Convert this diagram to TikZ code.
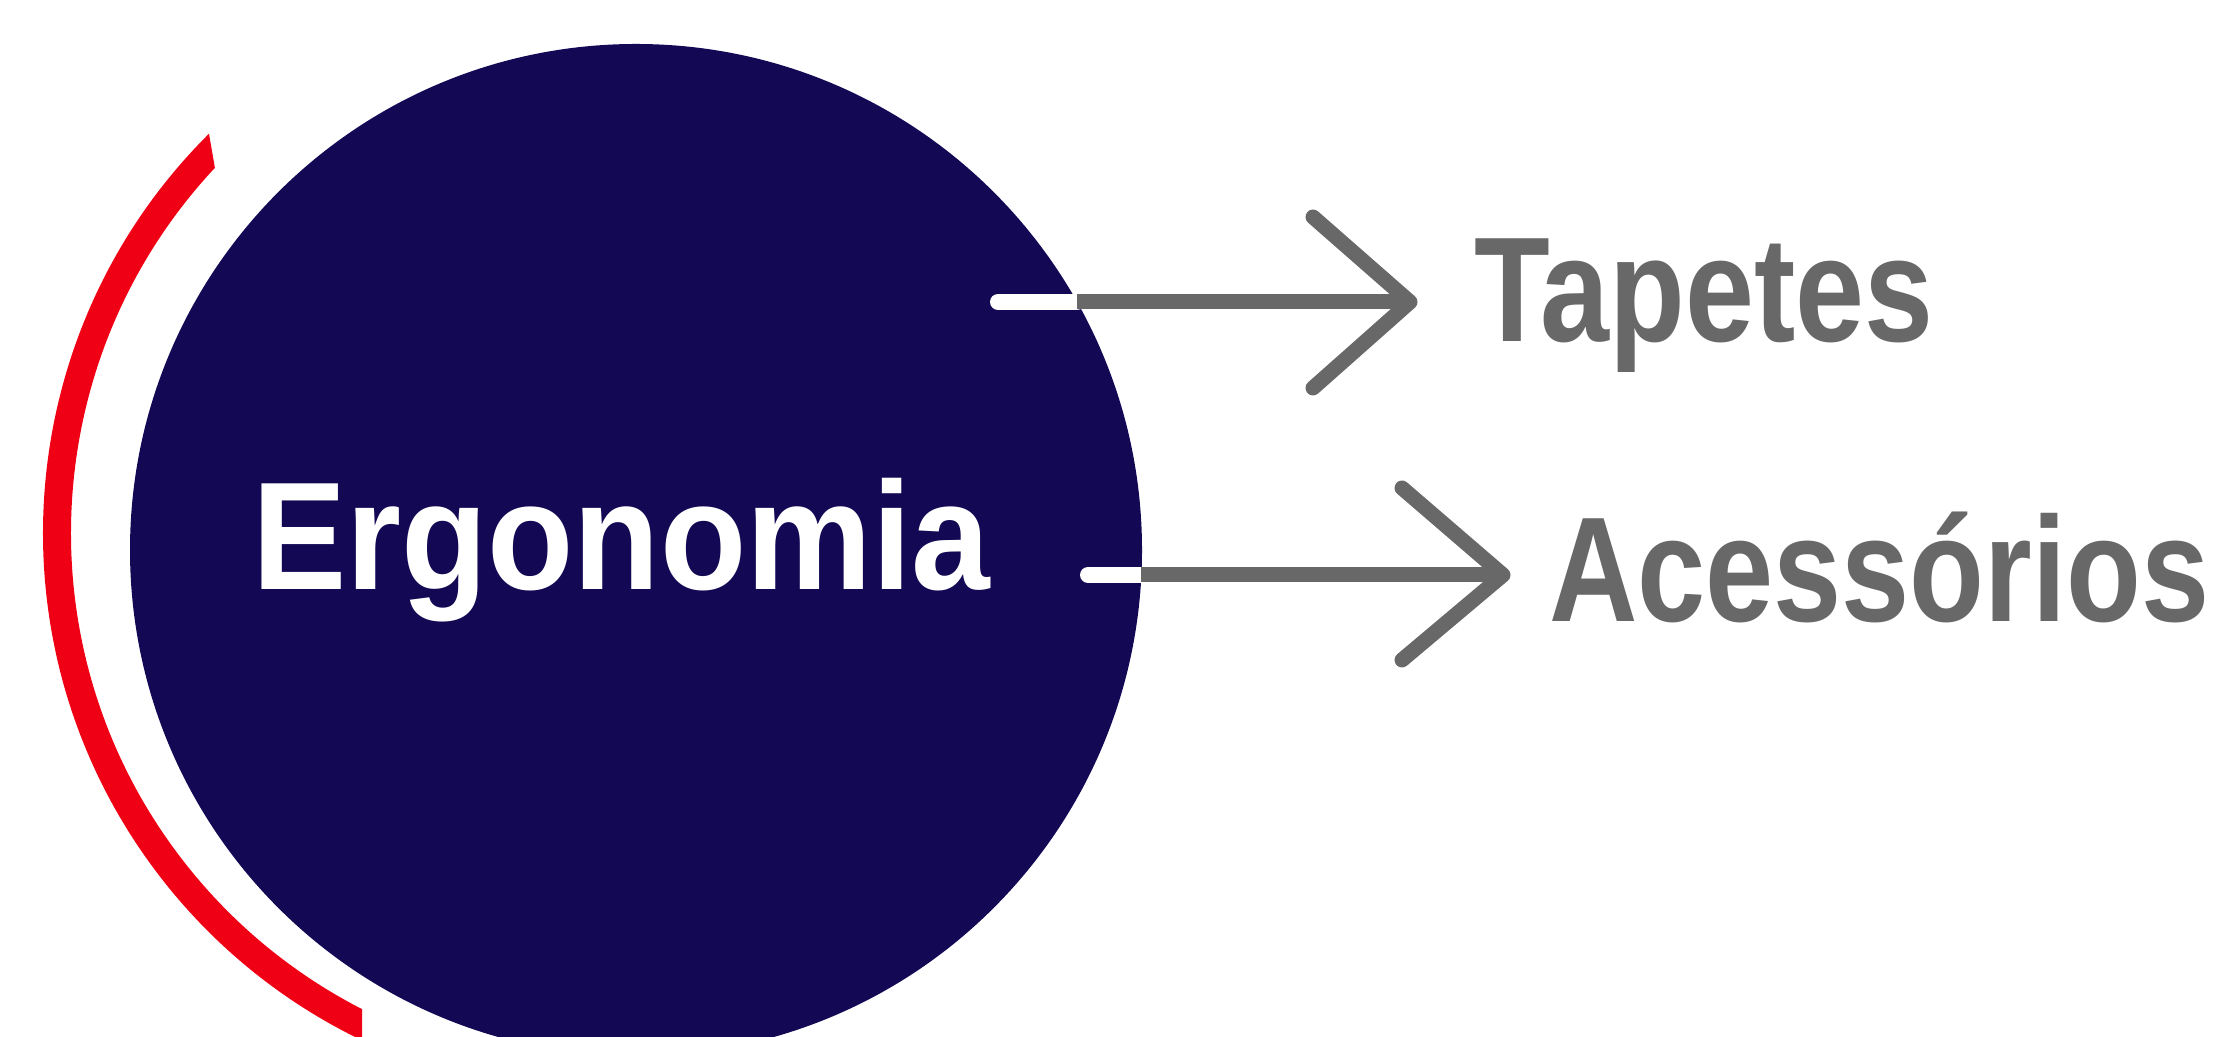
\documentclass[tikz,border=0pt]{standalone}
\usepackage{fontspec}
\setmainfont{Liberation Sans}
\usepackage{graphicx}
\definecolor{navy}{RGB}{18,8,84}
\definecolor{redarc}{RGB}{240,0,20}
\definecolor{greyline}{RGB}{104,104,104}
\tikzset{
  bigcircle/.style={circle, fill=navy, minimum size=10.12cm, inner sep=0pt, outer sep=0pt},
  whitestub/.style={draw=white, line width=0.16cm, line cap=round},
  greyconn/.style={draw=greyline, line width=0.15cm},
  chevron/.style={draw=greyline, line width=0.15cm, line cap=round, line join=round},
  label/.style={anchor=base west, inner sep=0pt, outer sep=0pt, text=greyline,
    font=\fontsize{42.5}{50}\selectfont\bfseries},
  centertext/.style={anchor=base west, inner sep=0pt, outer sep=0pt, text=white,
    font=\fontsize{43.7}{52}\selectfont\bfseries}
}
\begin{document}
\begin{tikzpicture}
\useasboundingbox (0,0) rectangle (22.17,10.37);
\clip (0,0) rectangle (22.17,10.37);
% red arc
\begin{scope}
  \clip (0,0) -- (3.62,0) -- (3.62,6) -- (2.44,7) -- (1.86,10.37) -- (0,10.37) -- cycle;
  \draw[redarc, line width=0.28cm] (6.06,5.04) ++(130:5.49) arc[start angle=130, end angle=250, radius=5.49];
\end{scope}
% main circle
\node[bigcircle] (erg) at (6.36,4.87) {};
\node[centertext] (ergt) at (2.52,4.47) {\scalebox{0.92}[1]{Ergonomia}};
% labels
\node[label] (tap) at (14.74,6.95) {\scalebox{0.83}[1]{Tapetes}};
\node[label] (acc) at (15.49,4.15) {\scalebox{0.82}[1]{Acessórios}};
% connector coordinates
\coordinate (t0) at (9.98,7.35);
\coordinate (tb) at (10.77,7.35);
\coordinate (ttip) at (14.10,7.35);
\coordinate (a0) at (10.88,4.62);
\coordinate (ab) at (11.41,4.62);
\coordinate (atip) at (15.03,4.62);
% top connector
\draw[whitestub] (t0) -- (tb);
\draw[greyconn] (tb) -- (ttip);
\draw[chevron] (13.13,8.20) -- (ttip) -- (13.13,6.49);
% bottom connector
\draw[whitestub] (a0) -- (ab);
\draw[greyconn] (ab) -- (atip);
\draw[chevron] (14.02,5.49) -- (atip) -- (14.02,3.77);
\end{tikzpicture}
\end{document}
